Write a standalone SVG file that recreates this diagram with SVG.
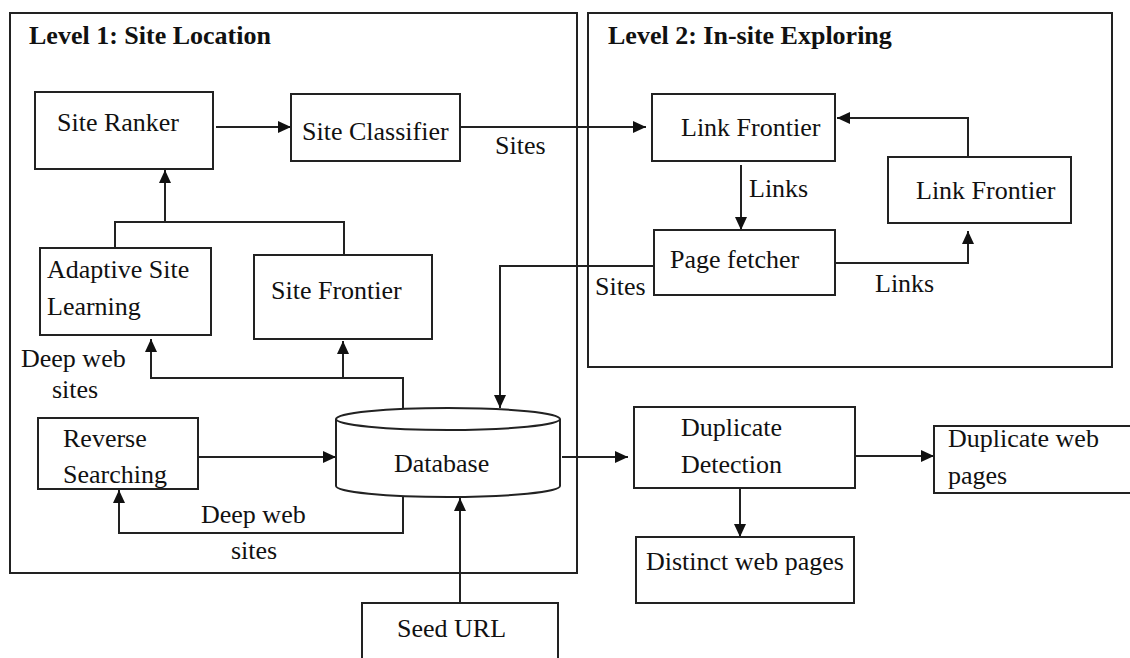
<svg xmlns="http://www.w3.org/2000/svg" width="1130" height="658" viewBox="0 0 1130 658">
<style>
.box{fill:#fff;stroke:#222;stroke-width:2}
.frame{fill:none;stroke:#222;stroke-width:2}
.ln{fill:none;stroke:#222;stroke-width:2}
.arr{fill:none;stroke:#222;stroke-width:2;marker-end:url(#ah)}
text{font-family:"Liberation Serif","Times New Roman",serif;font-size:26px;fill:#111}
.title{font-weight:bold}
</style>
<defs>
<marker id="ah" markerUnits="userSpaceOnUse" markerWidth="14" markerHeight="12" refX="13" refY="6" orient="auto">
<path d="M0,0 L13,6 L0,12 z" fill="#111"/>
</marker>
</defs>
<rect width="1130" height="658" fill="#fff"/>
<g id="level1">
<rect class="frame" x="10" y="13" width="567" height="560"/>
<text class="title" x="29" y="44">Level 1: Site Location</text>
</g>
<g id="level2">
<rect class="frame" x="588" y="13" width="524" height="354"/>
<text class="title" x="608" y="44">Level 2: In-site Exploring</text>
</g>
<g id="connectors">
<path class="arr" d="M216,127 H291"/>
<path class="arr" d="M461,127 H646"/>
<path class="ln" d="M115,248 V222 H344 V255"/>
<path class="arr" d="M165,222 V170"/>
<path class="arr" d="M403,409 V378 H151 V339"/>
<path class="arr" d="M343,378 V341"/>
<path class="arr" d="M198,457 H336"/>
<path class="arr" d="M403,497 V533 H119 V490"/>
<path class="arr" d="M460,603 V498"/>
<path class="arr" d="M653,266 H500 V408"/>
<path class="arr" d="M562,457 H628"/>
<path class="arr" d="M741,165 V230"/>
<path class="arr" d="M968,157 V118 H837"/>
<path class="arr" d="M835,263 H968 V231"/>
<path class="arr" d="M853,456 H934"/>
<path class="arr" d="M740,488 V537"/>
</g>
<g id="site-ranker">
<rect class="box" x="35" y="92" width="178" height="77"/>
<text x="57" y="131">Site Ranker</text>
</g>
<g id="site-classifier">
<rect class="box" x="291" y="94" width="169" height="67"/>
<text x="302" y="140">Site Classifier</text>
</g>
<g id="adaptive-site-learning">
<rect class="box" x="40" y="248" width="171" height="87"/>
<text x="47" y="278">Adaptive Site</text>
<text x="47" y="315">Learning</text>
</g>
<g id="site-frontier">
<rect class="box" x="254" y="255" width="178" height="84"/>
<text x="271" y="299">Site Frontier</text>
</g>
<g id="reverse-searching">
<rect class="box" x="38" y="418" width="160" height="71"/>
<text x="63" y="447">Reverse</text>
<text x="63" y="483">Searching</text>
</g>
<g id="database">
<path class="box" d="M336,419 A112,11 0 0 1 560,419 V486 A112,11 0 0 1 336,486 Z"/>
<path class="ln" d="M336,419 A112,11 0 0 0 560,419"/>
<text x="394" y="472">Database</text>
</g>
<g id="seed-url">
<rect class="box" x="362" y="603" width="196" height="70"/>
<text x="397" y="637">Seed URL</text>
</g>
<g id="link-frontier-1">
<rect class="box" x="652" y="94" width="183" height="67"/>
<text x="681" y="136">Link Frontier</text>
</g>
<g id="link-frontier-2">
<rect class="box" x="888" y="157" width="183" height="66"/>
<text x="916" y="199">Link Frontier</text>
</g>
<g id="page-fetcher">
<rect class="box" x="654" y="230" width="181" height="65"/>
<text x="670" y="268">Page fetcher</text>
</g>
<g id="duplicate-detection">
<rect class="box" x="634" y="407" width="221" height="81"/>
<text x="681" y="436">Duplicate</text>
<text x="681" y="473">Detection</text>
</g>
<g id="duplicate-web-pages">
<rect class="box" x="934" y="426" width="220" height="67"/>
<text x="948" y="447">Duplicate web</text>
<text x="948" y="484">pages</text>
</g>
<g id="distinct-web-pages">
<rect class="box" x="636" y="537" width="218" height="66"/>
<text x="646" y="570">Distinct web pages</text>
</g>
<g id="labels">
<text x="495" y="154">Sites</text>
<text x="749" y="197">Links</text>
<text x="875" y="292">Links</text>
<text x="595" y="295">Sites</text>
<text x="21" y="367">Deep web</text>
<text x="52" y="398">sites</text>
<text x="201" y="523">Deep web</text>
<text x="231" y="559">sites</text>
</g>
</svg>
